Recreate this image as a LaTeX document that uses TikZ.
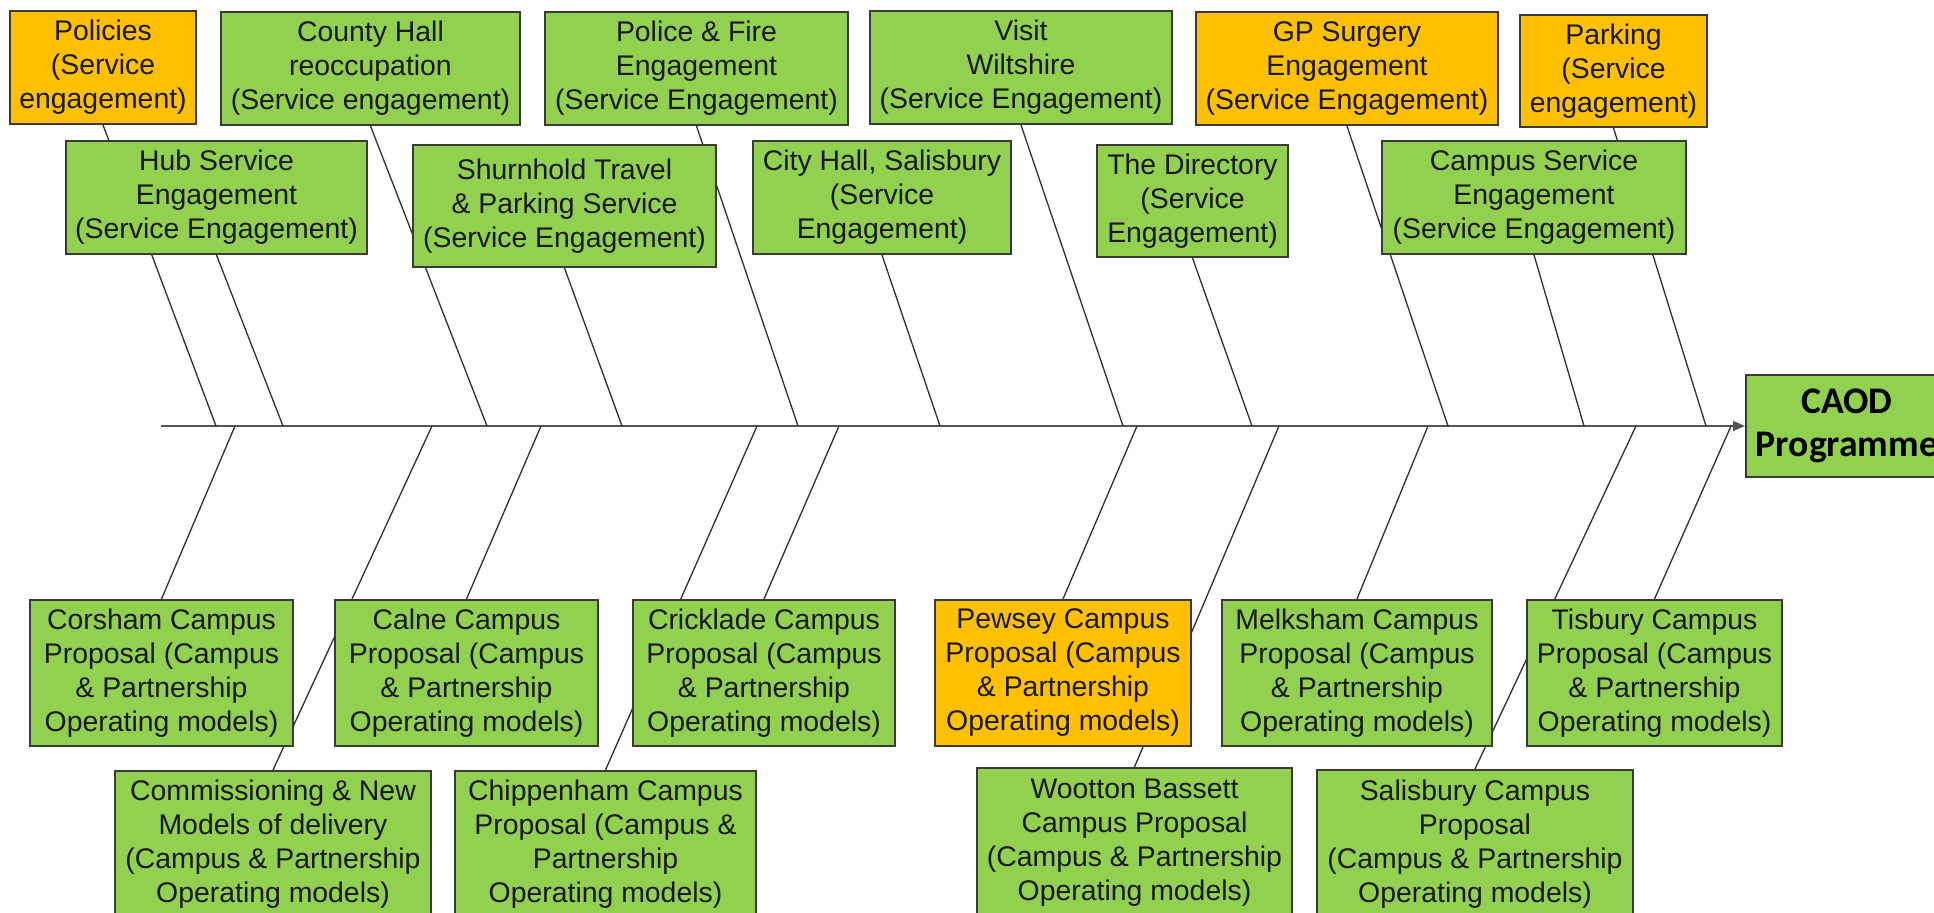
\documentclass[tikz,border=0pt]{standalone}
\usepackage{fontspec}
\setmainfont{Liberation Sans}
\newfontfamily\caodfont{Carlito}
\usetikzlibrary{arrows.meta}
\definecolor{boxgreen}{HTML}{92D050}
\definecolor{boxorange}{HTML}{FFC000}
\definecolor{boxedge}{HTML}{3A3A3A}
\definecolor{spinegray}{HTML}{555555}
\definecolor{bonegray}{HTML}{303030}
\pgfdeclarelayer{bgl}
\pgfdeclarelayer{linel}
\pgfsetlayers{bgl,linel,main}
\newcommand{\placebox}[7]{\node[#6, minimum width={(#4-#2)*0.5pt}, minimum height={(#5-#3)*0.5pt}] (#1) at ({(#2+#4)/2},{(#3+#5)/2}) {#7};}
\tikzset{
  cbox/.style={draw=boxedge, line width=1pt, inner sep=0pt, align=center,
    font=\fontsize{14.2}{17}\selectfont, text=black!90},
  gbox/.style={cbox, fill=boxgreen},
  obox/.style={cbox, fill=boxorange},
  bone/.style={draw=bonegray, line width=0.65pt},
  spinestyle/.style={draw=spinegray, line width=0.8pt, -{Triangle[length=6pt,width=5pt]}},
  caodbox/.style={draw=boxedge, line width=1pt, fill=boxgreen, inner sep=0pt, align=center,
    font=\caodfont\bfseries\fontsize{18.8}{21.5}\selectfont, text=black}
}
\begin{document}
\begin{tikzpicture}[x=0.5pt,y=-0.5pt]
\useasboundingbox (0,0) rectangle (1934,913);
\clip (0,0) rectangle (1934,913);
\begin{pgfonlayer}{bgl}
\fill[white] (0,0) rectangle (1934,913);
\end{pgfonlayer}
% top row
\placebox{pol}{10}{11}{196}{124}{obox}{Policies\\(Service\\engagement)}
\placebox{cty}{221}{12}{520}{125}{gbox}{County Hall\\reoccupation\\(Service engagement)}
\placebox{pf}{545}{12}{848}{125}{gbox}{Police \& Fire\\Engagement\\(Service Engagement)}
\placebox{vis}{870}{11}{1172}{124}{gbox}{Visit\\Wiltshire\\(Service Engagement)}
\placebox{gp}{1196}{12}{1498}{125}{obox}{GP Surgery\\Engagement\\(Service Engagement)}
\placebox{park}{1520}{15}{1707}{127}{obox}{Parking\\(Service\\engagement)}
% second row
\placebox{hub}{66}{141}{367}{254}{gbox}{Hub Service\\Engagement\\(Service Engagement)}
\placebox{shu}{413}{145}{716}{267}{gbox}{Shurnhold Travel\\\& Parking Service\\(Service Engagement)}
\placebox{chl}{753}{141}{1011}{254}{gbox}{City Hall, Salisbury\\(Service\\Engagement)}
\placebox{dir}{1097}{145}{1288}{257}{gbox}{The Directory\\(Service\\Engagement)}
\placebox{cam}{1382}{141}{1686}{254}{gbox}{Campus Service\\Engagement\\(Service Engagement)}
% lower row 1
\placebox{cor}{30}{600}{293}{746}{gbox}{Corsham Campus\\Proposal (Campus\\\& Partnership\\Operating models)}
\placebox{cal}{335}{600}{598}{746}{gbox}{Calne Campus\\Proposal (Campus\\\& Partnership\\Operating models)}
\placebox{cri}{633}{600}{895}{746}{gbox}{Cricklade Campus\\Proposal (Campus\\\& Partnership\\Operating models)}
\placebox{pew}{935}{600}{1191}{746}{obox}{Pewsey Campus\\Proposal (Campus\\\& Partnership\\Operating models)}
\placebox{mel}{1222}{600}{1492}{746}{gbox}{Melksham Campus\\Proposal (Campus\\\& Partnership\\Operating models)}
\placebox{tis}{1527}{600}{1782}{746}{gbox}{Tisbury Campus\\Proposal (Campus\\\& Partnership\\Operating models)}
% lower row 2
\placebox{com}{115}{771}{431}{918}{gbox}{Commissioning \& New\\Models of delivery\\(Campus \& Partnership\\Operating models)}
\placebox{chi}{455}{771}{756}{918}{gbox}{Chippenham Campus\\Proposal (Campus \&\\Partnership\\Operating models)}
\placebox{woo}{977}{768}{1292}{918}{gbox}{Wootton Bassett\\Campus Proposal\\(Campus \& Partnership\\Operating models)}
\placebox{sal}{1317}{770}{1633}{918}{gbox}{Salisbury Campus\\Proposal\\(Campus \& Partnership\\Operating models)}
% head
\placebox{caod}{1746}{375}{1948}{477}{caodbox}{CAOD\\Programme}
% spine and bones
\coordinate (spL) at (161,426);
\begin{pgfonlayer}{linel}
\draw[spinestyle] (spL) -- (caod.west);
\foreach \n/\x in {pol/216,hub/283,cty/487,shu/622,pf/798,chl/940,vis/1123,dir/1252,gp/1448,cam/1584,park/1706}{
  \coordinate (s\n) at (\x,426);
  \draw[bone] (\n.south) -- (s\n);
}
\foreach \n/\x in {cor/235,com/432,cal/541,chi/757,cri/839,pew/1137,woo/1279,mel/1428,sal/1636,tis/1731}{
  \coordinate (s\n) at (\x,426);
  \draw[bone] (s\n) -- (\n.north);
}
\end{pgfonlayer}
\end{tikzpicture}
\end{document}
